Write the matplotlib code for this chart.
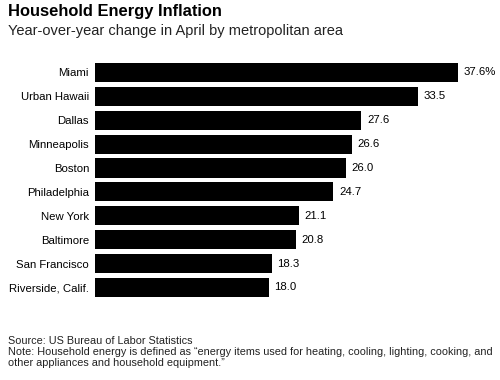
import matplotlib.pyplot as plt

areas = ["Miami", "Urban Hawaii", "Dallas", "Minneapolis", "Boston",
         "Philadelphia", "New York", "Baltimore", "San Francisco", "Riverside, Calif."]
values = [37.6, 33.5, 27.6, 26.6, 26.0, 24.7, 21.1, 20.8, 18.3, 18.0]
value_labels = ["37.6%", "33.5", "27.6", "26.6", "26.0", "24.7", "21.1", "20.8", "18.3", "18.0"]

plt.rcParams['font.family'] = ['Liberation Sans', 'DejaVu Sans']

fig = plt.figure(figsize=(5, 3.8), dpi=100)
ax = fig.add_axes([0.19, 0.212, 0.726, 0.629])

pos = list(range(len(areas)))
ax.barh(pos, values, height=0.8, color='black')
ax.set_ylim(len(areas) - 0.5, -0.5)
ax.set_xlim(0, 37.6)
ax.set_yticks(pos)
ax.set_yticklabels(areas, fontsize=8.2)
ax.tick_params(axis='y', length=0, pad=4.3)
ax.set_xticks([])
for s in ax.spines.values():
    s.set_visible(False)

for i, (v, lab) in enumerate(zip(values, value_labels)):
    ax.annotate(lab, (v, i), xytext=(4, 0), textcoords='offset points',
                va='center', ha='left', fontsize=8.2)

fig.text(0.016, 0.99, "Household Energy Inflation", fontsize=11.9, fontweight='bold',
         va='top', ha='left')
fig.text(0.016, 0.938, "Year-over-year change in April by metropolitan area", fontsize=10.5,
         va='top', ha='left', color='#222222')

footer = ("Source: US Bureau of Labor Statistics\n"
          "Note: Household energy is defined as \u201cenergy items used for heating, cooling, lighting, cooking, and\n"
          "other appliances and household equipment.\u201d")
fig.text(0.016, 0.116, footer, fontsize=7.8, va='top', ha='left', linespacing=1.1, color='#222222')

fig.savefig("out.png", dpi=100)
